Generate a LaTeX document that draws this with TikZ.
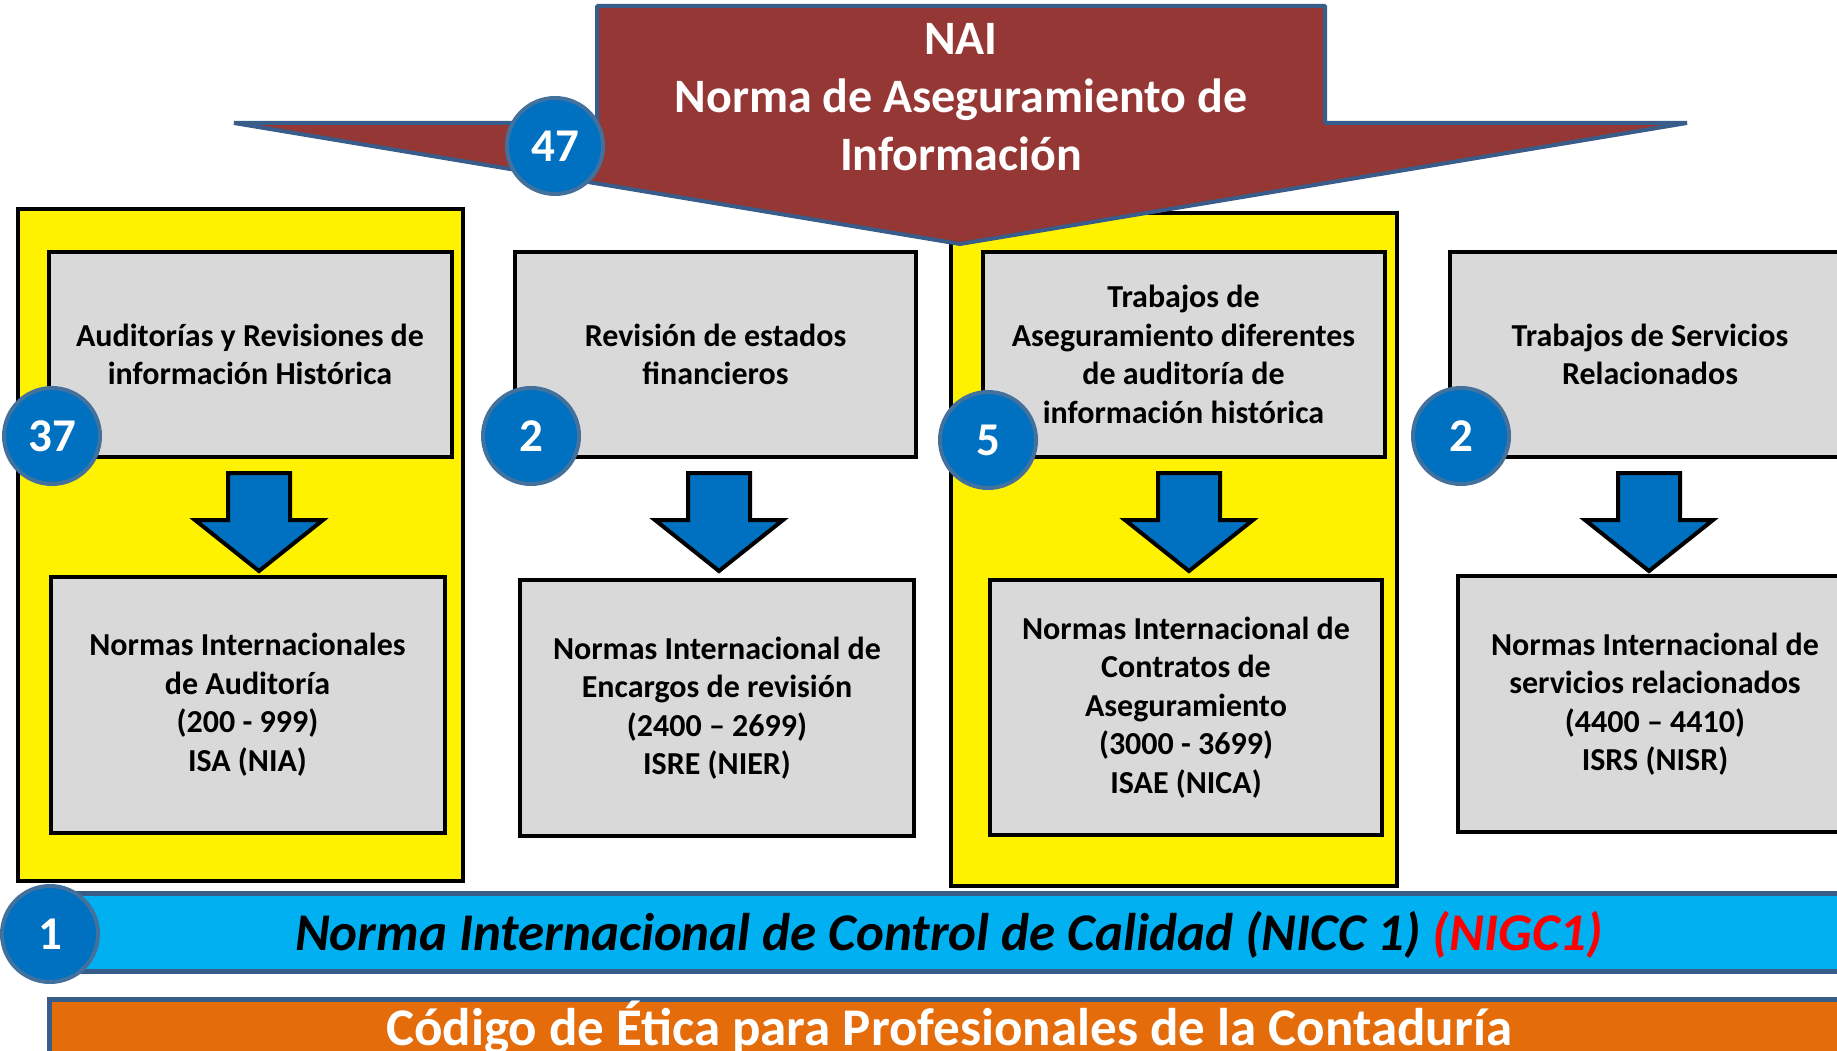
\documentclass[tikz,border=0pt]{standalone}
\usepackage{fontspec}
\setmainfont{Carlito}
\definecolor{naired}{HTML}{953735}
\definecolor{navyedge}{HTML}{385D8A}
\definecolor{badgeblue}{HTML}{0070C0}
\definecolor{badgeedge}{HTML}{41719C}
\definecolor{boxgray}{HTML}{D9D9D9}
\definecolor{bandcyan}{HTML}{00B0F0}
\definecolor{bandorange}{HTML}{E46C0A}

\begin{document}
\begin{tikzpicture}[x=1pt, y=-1pt,
  panel/.style={rectangle, draw=black, line width=4pt, fill=yellow, inner sep=0pt},
  graybox/.style={rectangle, draw=black, line width=4pt, fill=boxgray,
                  inner sep=0pt, align=center,
                  font=\fontsize{32}{38.5}\selectfont\bfseries},
  badge/.style={circle, draw=badgeedge, line width=4pt, fill=badgeblue,
                minimum size=96pt, inner sep=0pt, text=white,
                font=\fontsize{47}{47}\selectfont\bfseries},
  downarrow/.style={draw=black, line width=4pt, fill=badgeblue},
  bigarrow/.style={draw=navyedge, line width=4pt, fill=naired, line join=bevel},
  band/.style={draw=navyedge, line width=5pt}
]
  \useasboundingbox (0,0) rectangle (1837,1051);
  \clip (0,0) rectangle (1837,1051);

  % yellow panels
  \node[panel, minimum width=445pt, minimum height=672pt] (panA) at (240.5,545) {};
  \node[panel, minimum width=446pt, minimum height=673pt] (panC) at (1174,549.5) {};

  % upper boxes
  \node[graybox, minimum width=403pt, minimum height=205pt] (aud) at (250,354.5)
    {Auditorías y Revisiones de\\información Histórica};
  \node[graybox, minimum width=401pt, minimum height=205pt] (rev) at (715.5,354.5)
    {Revisión de estados\\financieros};
  \node[graybox, minimum width=402pt, minimum height=205pt] (tra) at (1183.5,354.5)
    {Trabajos de\\Aseguramiento diferentes\\de auditoría de\\información histórica};
  \node[graybox, minimum width=400pt, minimum height=205pt] (ser) at (1650,354.5)
    {Trabajos de Servicios\\Relacionados};

  % lower boxes
  \node[graybox, minimum width=394pt, minimum height=256pt] (nia) at (247.5,704.5)
    {Normas Internacionales\\de Auditoría\\(200 - 999)\\ISA (NIA)};
  \node[graybox, minimum width=394pt, minimum height=256pt] (nier) at (717,708)
    {Normas Internacional de\\Encargos de revisión\\(2400 -- 2699)\\ISRE (NIER)};
  \node[graybox, minimum width=392pt, minimum height=255pt] (nica) at (1186,707.5)
    {Normas Internacional de\\Contratos de\\Aseguramiento\\(3000 - 3699)\\ISAE (NICA)};
  \node[graybox, minimum width=394pt, minimum height=256pt] (nisr) at (1655,704)
    {Normas Internacional de\\servicios relacionados\\(4400 -- 4410)\\ISRS (NISR)};

  % block arrows between the rows
  \foreach \ax in {259,719,1189,1649}
    \draw[downarrow] (\ax-31,473) -- (\ax+31,473) -- (\ax+31,520) -- (\ax+64,520)
      -- (\ax,571) -- (\ax-64,520) -- (\ax-31,520) -- cycle;

  % NAI arrow
  \draw[bigarrow] (597,6) -- (1325,6) -- (1325,123) -- (1687,123) -- (960,244)
    -- (234,123) -- (597,123) -- cycle;
  \node[align=center, text=white, inner sep=0pt,
        font=\fontsize{48}{58}\selectfont\bfseries] (nai) at (961,97)
    {NAI\\Norma de Aseguramiento de\\Información};

  % counters
  \node[badge] (bNai) at (555,146) {47};
  \node[badge] (bAud) at (52,436) {37};
  \node[badge] (bRev) at (531,436) {2};
  \node[badge] (bTra) at (988,440) {5};
  \node[badge] (bSer) at (1461,436) {2};

  % bottom bands
  \draw[band, fill=bandcyan] (40,893) rectangle (1860,971);
  \node[anchor=base, inner sep=0pt,
        font=\fontsize{53}{53}\selectfont\bfseries\itshape] (nicc) at (949,950)
    {Norma Internacional de Control de Calidad (NICC 1) \textcolor{red}{(NIGC1)}};
  \node[badge] (bNicc) at (50,934) {1};

  \draw[band, fill=bandorange] (49,999) rectangle (1860,1080);
  \node[anchor=base, inner sep=0pt, text=white,
        font=\fontsize{53}{53}\selectfont\bfseries] (etica) at (949,1045)
    {Código de Ética para Profesionales de la Contaduría};
\end{tikzpicture}
\end{document}
